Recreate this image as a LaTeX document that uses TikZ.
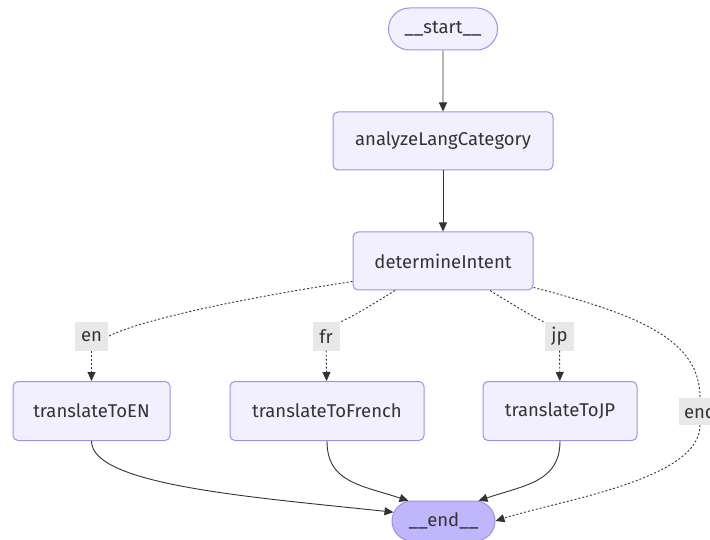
\documentclass[tikz,border=0pt]{standalone}
\usepackage{fontspec}
\setmainfont{Fira Sans}
\usetikzlibrary{arrows.meta,shapes.misc}
\definecolor{nodefill}{HTML}{F2F0FF}
\definecolor{nodedraw}{HTML}{A48FE3}
\definecolor{endfill}{HTML}{BFB6FC}
\definecolor{txt}{HTML}{333333}
\definecolor{lblbg}{HTML}{E8E8E8}
\tikzset{
  box/.style={draw=nodedraw, fill=nodefill, line width=1pt, rounded corners=5pt,
    minimum height=58pt, inner sep=0pt, text=txt, font=\fontsize{18.5}{22}\selectfont},
  pill/.style={rounded rectangle, draw=nodedraw, fill=nodefill, line width=1pt,
    minimum height=42pt, inner sep=0pt, text=txt, font=\fontsize{18.5}{22}\selectfont},
  lbl/.style={fill=lblbg, text=txt, inner sep=0pt, minimum height=28pt,
    font=\fontsize{18.5}{22}\selectfont},
  edge/.style={draw=txt, line width=0.9pt, -{Triangle[length=9pt,width=8pt]}},
  cond/.style={draw=txt, line width=0.9pt, dash pattern=on 2pt off 2pt},
  condarrow/.style={cond, -{Triangle[length=9pt,width=8pt]}}
}
\begin{document}
\begin{tikzpicture}[x=1pt,y=-1pt]
\useasboundingbox (0,0) rectangle (710,540);
\clip (0,0) rectangle (710,540);
% nodes
\node[pill, minimum width=109pt] (start) at (443,29) {\_\_start\_\_};
\node[box, minimum width=220pt] (analyze) at (443,141) {analyzeLangCategory};
\node[box, minimum width=180pt] (determine) at (443,261) {determineIntent};
\node[box, minimum width=157pt, minimum height=59pt] (ten) at (91.5,411) {translateToEN};
\node[box, minimum width=194pt, minimum height=59pt] (tfr) at (327,411) {translateToFrench};
\node[box, minimum width=154pt, minimum height=59pt] (tjp) at (560,411) {translateToJP};
\node[pill, fill=endfill, minimum width=103pt, minimum height=40pt] (end) at (443.5,521) {\_\_end\_\_};
% labels
\node[lbl, minimum width=33pt] (len) at (91.5,336.5) {en};
\node[lbl, minimum width=27pt] (lfr) at (326,336.5) {fr};
\node[lbl, minimum width=29pt] (ljp) at (559.5,336.5) {jp};
\node[lbl, minimum width=42pt, minimum height=27pt] (lend) at (700,411.5) {end};
% solid edges
\draw[edge] (start) -- (analyze);
\draw[edge] (analyze) -- (determine);
% conditional edges
\draw[cond] (determine.south west) ++(0,-9) coordinate (d1)
  (d1) .. controls (230,300) and (135,322) .. (len.east);
\draw[condarrow] (len) -- (ten);
\draw[cond] ([xshift=-48pt]determine.south) .. controls (370,306) and (350,318) .. (lfr.north east);
\draw[condarrow] (lfr) -- (tfr);
\draw[cond] ([xshift=47pt]determine.south) .. controls (515,306) and (535,318) .. (ljp.north west);
\draw[condarrow] (ljp) -- (tjp);
\draw[cond] ([yshift=3pt]determine.south east) .. controls (640,315) and (700,340) .. (lend.north);
\draw[condarrow] (lend.south) .. controls (700,480) and (560,500) .. (end.east);
% edges to end
\draw[edge] (ten.south) .. controls (91.5,485) and (250,497) .. (end.170);
\draw[edge] (tfr.south) .. controls (327,482) and (360,485) .. (end.150);
\draw[edge] (tjp.south) .. controls (560,482) and (525,485) .. (end.30);
\end{tikzpicture}
\end{document}
